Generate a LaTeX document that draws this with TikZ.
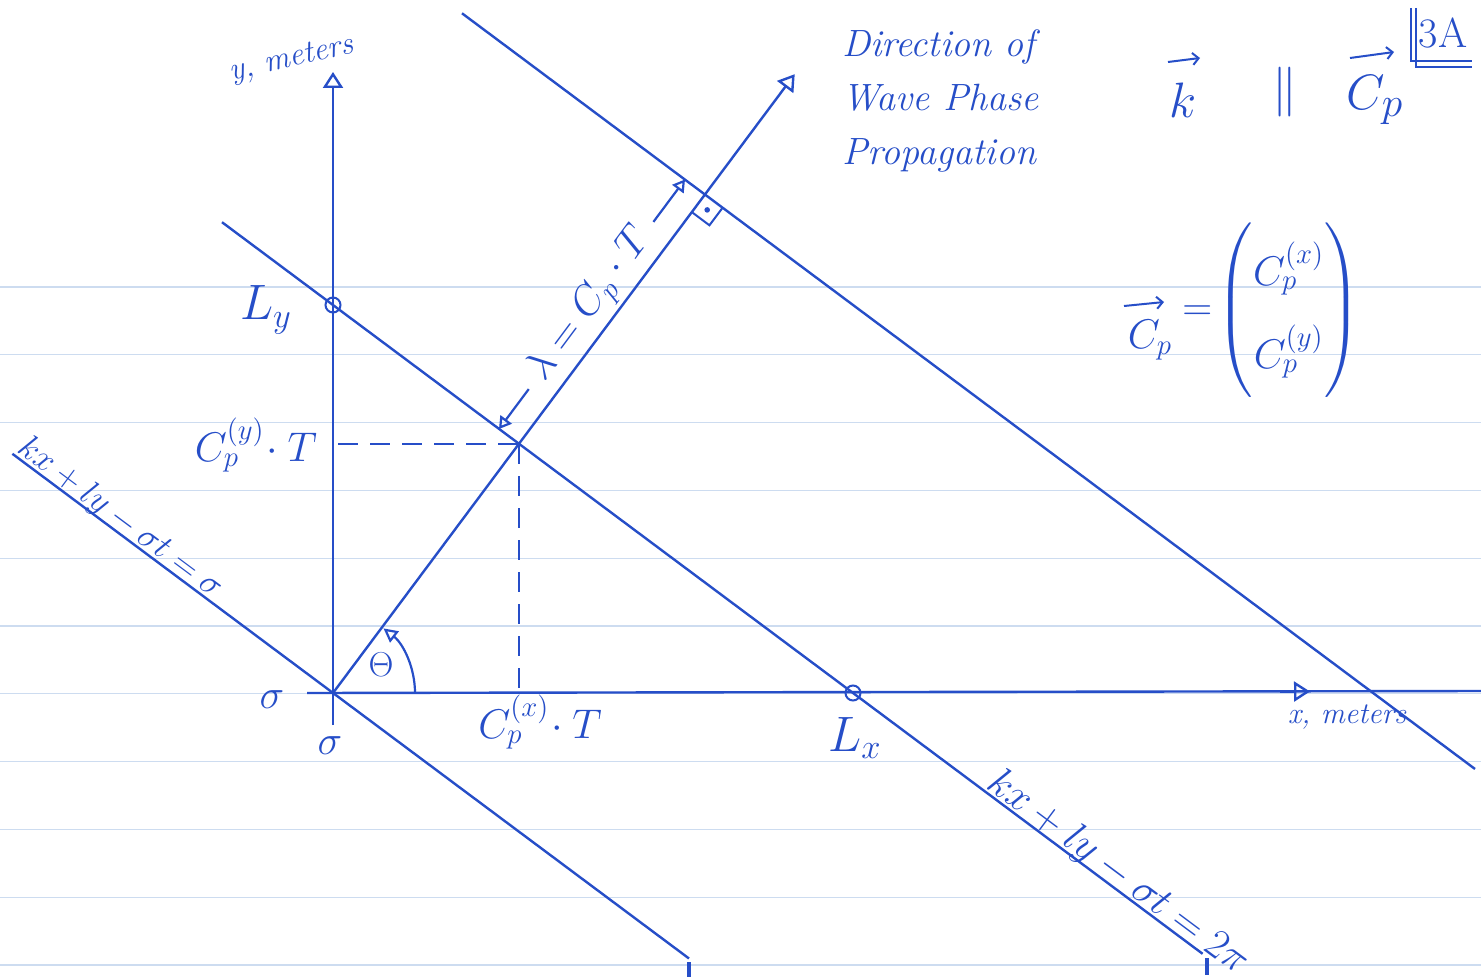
\documentclass[tikz,border=0pt]{standalone}
\usepackage{amsmath}
\usetikzlibrary{arrows.meta,calc}
\definecolor{inkc}{RGB}{38,78,200}
\definecolor{rulec}{RGB}{205,220,240}
\begin{document}
\begin{tikzpicture}[x=0.5pt,y=-0.5pt,
  inkline/.style={draw=inkc,line width=1.2pt},
  opentip/.style={-{Triangle[open,length=8pt,width=10pt]}},
  dimtips/.style={-{Triangle[open,length=6pt,width=7pt]}},
  vecarrow/.style={draw=inkc,line width=1pt,-{Straight Barb[length=3pt,width=6pt]}},
  lbl/.style={text=inkc,inner sep=1pt},
  pt/.style={circle,draw=inkc,line width=1pt,minimum size=7.5pt,inner sep=0pt},
  rule/.style={draw=rulec,line width=0.6pt}
]
\useasboundingbox (0,0) rectangle (1481,979);
\fill[white] (0,0) rectangle (1481,979);
% ruled paper
\foreach \yy in {287,354.8,422.6,490.4,558.2,626,693.8,761.6,829.4,897.2,965}
  \draw[rule] (0,\yy) -- (1481,\yy);

% key points
\coordinate (O) at (333,693);
\coordinate (F) at (519,444);
\coordinate (P2) at (705,194.5);
\coordinate (L0a) at (12.4,453.8);
\coordinate (L0b) at (689,958.5);
\coordinate (L1a) at (222,222.2);
\coordinate (L1b) at (1202.6,953.8);
\coordinate (L2a) at (462,13.3);
\coordinate (L2b) at (1475,769);
\coordinate (Dtip) at (794.7,74.2);
\coordinate (A) at (499,429);
\coordinate (B) at (685,179.5);
\coordinate (Xl) at (307,693);
\coordinate (Xr) at (1481,691);
\coordinate (Xa) at (1280,691.6);
\coordinate (Xb) at (1310,691.5);
\coordinate (Yb) at (333,725);
\coordinate (Yt) at (333,72);
\coordinate (Hs) at (338,444);
\coordinate (Vb) at (519,690);
\coordinate (T0a) at (689,962);
\coordinate (T0b) at (689,977);
\coordinate (T1a) at (1207,958);
\coordinate (T1b) at (1207,975);
\coordinate (Arc0) at (415,693);
\coordinate (RA1) at (722.6,207.7);
\coordinate (RA2) at (709.4,225.3);
\coordinate (RA3) at (691.8,212.1);
\coordinate (RAdot) at (707.2,209.9);
\coordinate (kva) at (1168,62);
\coordinate (kvb) at (1200,58);
\coordinate (cva) at (1350,58);
\coordinate (cvb) at (1394,52);
\coordinate (dva) at (1124,306);
\coordinate (dvb) at (1164,302);

% axes
\draw[inkline] (Xl) -- (Xr);
\draw[inkline,opentip] (Xa) -- (Xb);
\draw[inkline,opentip] (Yb) -- (Yt);

% wave crest lines
\draw[inkline] (L0a) -- (L0b)
  node[pos=0.148,sloped,anchor=base,lbl,inner sep=0pt,yshift=2pt]
  {\fontsize{18.5}{20}\selectfont$kx+ly-\sigma t=\sigma$};
\draw[inkline] (L1a) -- (L1b)
  node[pos=0.905,sloped,anchor=base,lbl,inner sep=0pt,yshift=2pt]
  {\fontsize{20}{22}\selectfont$kx+ly-\sigma t=2\pi$};
\draw[inkline] (L2a) -- (L2b);
\draw[draw=inkc,line width=2.2pt] (T0a) -- (T0b);
\draw[draw=inkc,line width=2pt] (T1a) -- (T1b);

% intercept marks
\node[pt] (Ly) at (333,305) {};
\node[pt] (Lx) at (853,693) {};

% direction of phase propagation
\draw[inkline,opentip] (O) -- (Dtip);

% dashed projections
\draw[inkline,line width=1.1pt,dash pattern=on 10pt off 6pt] (Hs) -- (F);
\draw[inkline,line width=1.1pt,dash pattern=on 10pt off 6pt] (F) -- (Vb);

% angle theta
\draw[inkline,line width=1.1pt,-{Triangle[open,length=7pt,width=7pt]}] (Arc0) arc[start angle=0,end angle=-52,radius=82];
\node[lbl] (th) at (381,665) {\fontsize{18}{20}\selectfont$\Theta$};

% right angle mark
\draw[inkline,line width=1pt] (RA1) -- (RA2) -- (RA3);
\fill[inkc] (RAdot) circle[radius=1.4pt];

% wavelength dimension
\draw[inkline,line width=1.1pt,dimtips] ($(A)!0.16!(B)$) -- (A);
\draw[inkline,line width=1.1pt,dimtips] ($(A)!0.83!(B)$) -- (B);
\path (A) -- (B) node[pos=0.495,sloped,lbl] (lam)
  {\fontsize{22}{24}\selectfont$\lambda = C_p\cdot T$};

% axis labels
\node[lbl,rotate=13] (ylab) at (292,60) {\fontsize{16}{18}\selectfont\itshape y, meters};
\node[lbl] (xlab) at (1347,717) {\fontsize{15}{17}\selectfont\itshape x, meters};
\node[lbl] (Lylab) at (266,310) {\fontsize{24}{26}\selectfont$L_y$};
\node[lbl] (Lxlab) at (855,738) {\fontsize{24}{26}\selectfont$L_x$};
\node[lbl] (cyT) at (256,445) {\fontsize{20}{22}\selectfont$C_p^{(y)}\!\cdot T$};
\node[lbl] (cxT) at (540,722) {\fontsize{20}{22}\selectfont$C_p^{(x)}\!\cdot T$};
\node[lbl] (o1) at (272,700) {\fontsize{22}{24}\selectfont$\sigma$};
\node[lbl] (o2) at (330,746) {\fontsize{22}{24}\selectfont$\sigma$};

% text top right
\node[lbl,anchor=north west,align=left,font=\fontsize{19}{27}\selectfont\itshape] (dir) at (840,27)
  {Direction of\\ Wave Phase\\ Propagation};
\node[lbl] (kvec) at (1183,100) {\fontsize{28}{30}\selectfont$k$};
\draw[vecarrow] (kva) -- (kvb);
\node[lbl] (par) at (1285,92) {\fontsize{28}{30}\selectfont$\parallel$};
\node[lbl] (cpvec) at (1375,100) {\fontsize{28}{30}\selectfont$C_p$};
\draw[vecarrow] (cva) -- (cvb);
\node[lbl] (pg) at (1443,33) {\fontsize{21}{23}\selectfont 3A};
\draw[inkline,line width=1pt] (1411,8) -- (1411,61) -- (1472,61);
\draw[inkline,line width=1pt] (1416,8) -- (1416,67) -- (1472,67);
\node[lbl] (cpdefl) at (1150,340) {\fontsize{22}{26}\selectfont$C_p$};
\draw[vecarrow] (dva) -- (dvb);
\node[lbl,anchor=west] (cpdef) at (1180,310)
  {\fontsize{22}{26}\selectfont\renewcommand{\arraystretch}{1.6}$=\!\begin{pmatrix} C_p^{(x)} \\ C_p^{(y)} \end{pmatrix}$};
\end{tikzpicture}
\end{document}
